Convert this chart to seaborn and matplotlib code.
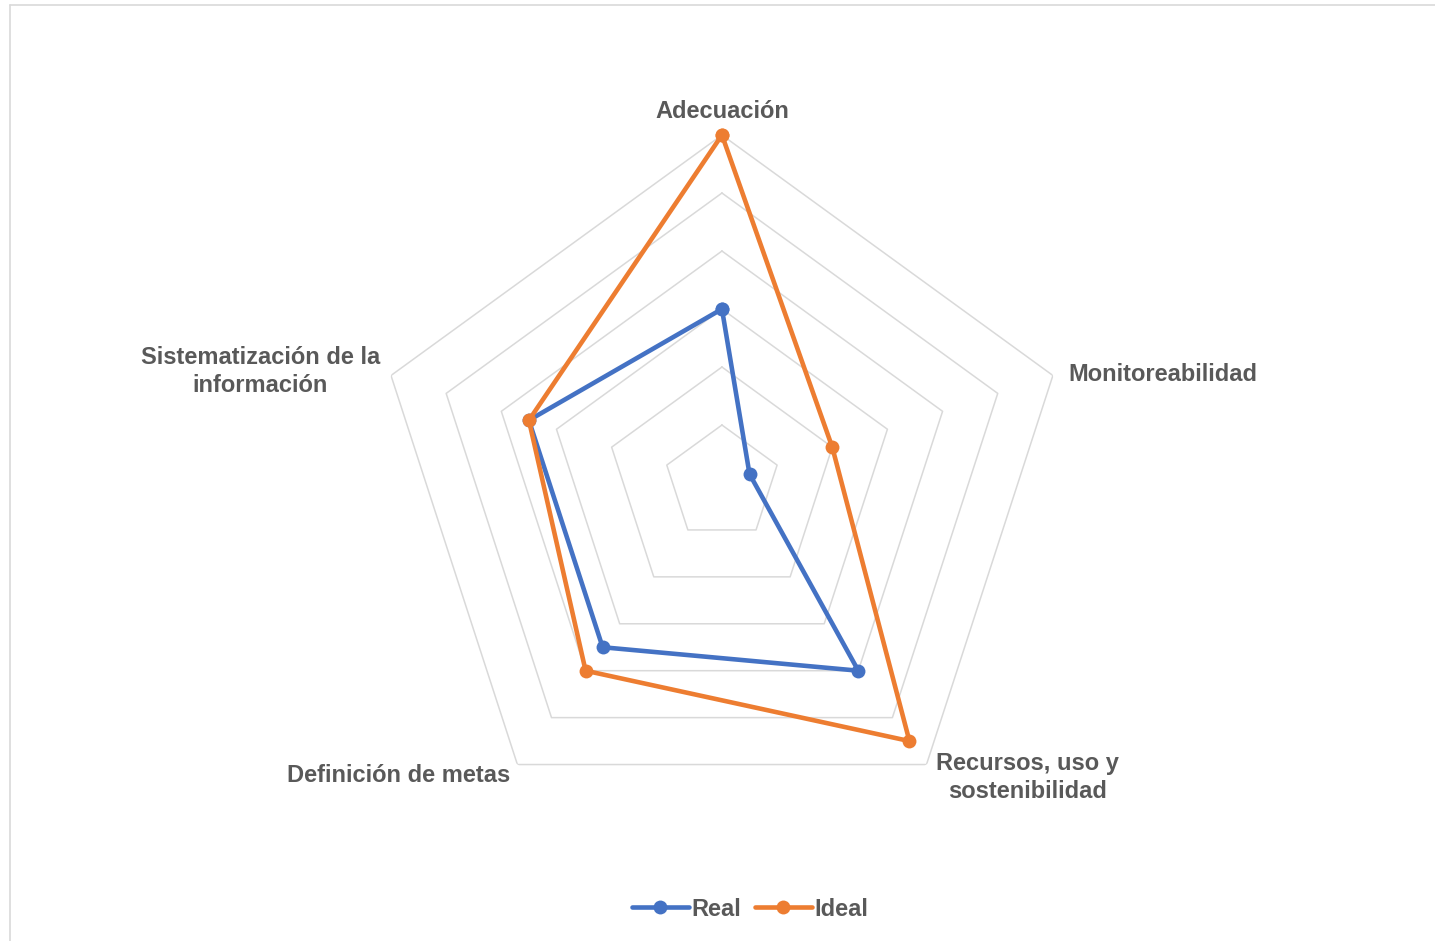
import numpy as np
import pandas as pd
import matplotlib
matplotlib.use("Agg")
import matplotlib.pyplot as plt
from matplotlib.lines import Line2D
import seaborn as sns

categories = ["Adecuación", "Monitoreabilidad", "Recursos, uso y\nsostenibilidad",
              "Definición de metas", "Sistematización de la\ninformación"]
real_values = [3, 0.5, 4, 3.5, 3.5]
ideal_values = [6, 2, 5.5, 4, 3.5]
series_names = ["Real", "Ideal"]
ring_levels = [1, 2, 3, 4, 5, 6]

BLUE = "#4472C4"
ORANGE = "#ED7D31"
GRID = "#D9D9D9"
TEXT = "#595959"

sns.set_style("white")
plt.rcParams["font.family"] = ["Liberation Sans", "DejaVu Sans"]

n = len(categories)
angles = np.linspace(0, 2 * np.pi, n, endpoint=False)

rows = []
for name, vals in zip(series_names, [real_values, ideal_values]):
    for i, (a, v) in enumerate(zip(angles, vals)):
        rows.append({"series": name, "theta": a, "r": v, "order": i})
    rows.append({"series": name, "theta": 2 * np.pi, "r": vals[0], "order": n})
df = pd.DataFrame(rows)

fig = plt.figure(figsize=(14.35, 9.41), dpi=100)
ax = fig.add_axes([0.2606, 0.1169, 0.485, 0.7396], projection="polar")
ax.set_theta_zero_location("N")
ax.set_theta_direction(-1)

# pentagon rings
closed = np.append(angles, angles[0])
for lv in ring_levels:
    ax.plot(closed, [lv] * len(closed), color=GRID, lw=1.1, zorder=1)

n_before = len(ax.lines)
sns.lineplot(data=df, x="theta", y="r", hue="series", sort=False, estimator=None,
             units="series", palette={"Real": BLUE, "Ideal": ORANGE},
             marker="o", markersize=10, markeredgewidth=0, linewidth=3.3,
             ax=ax, legend=False, zorder=3)
for ln in ax.lines[n_before:]:
    ln.set_clip_on(False)

ax.set_ylim(0, 6)
ax.grid(False)
ax.spines["polar"].set_visible(False)
ax.set_xticks([])
ax.set_yticks([])
ax.set_xlabel("")
ax.set_ylabel("")
ax.patch.set_alpha(0)

fs = 17
kw = dict(fontsize=fs, fontweight="bold", color=TEXT, textcoords="offset points",
          linespacing=1.25, multialignment="center")
offsets = [((0, 9), "center", "bottom"),
           ((11, 1), "left", "center"),
           ((7, 9), "left", "top"),
           ((-5, -8), "right", "center"),
           ((-8, 3), "right", "center")]
for a, lab, (off, ha, va) in zip(angles, categories, offsets):
    ax.annotate(lab, xy=(a, 6), xytext=off, ha=ha, va=va, **kw)

handles = [Line2D([0], [0], color=BLUE, lw=3.3, marker="o", markersize=10, markeredgewidth=0),
           Line2D([0], [0], color=ORANGE, lw=3.3, marker="o", markersize=10, markeredgewidth=0)]
leg = fig.legend(handles, series_names, loc="center", bbox_to_anchor=(750 / 1435, 1 - 909 / 941),
                 ncol=2, frameon=False, handlelength=2.4, handletextpad=0.1,
                 columnspacing=0.6, prop={"size": fs, "weight": "bold"})
for t in leg.get_texts():
    t.set_color(TEXT)

# chart area frame
fig.add_artist(Line2D([10 / 1435, 1.0], [1 - 5 / 941, 1 - 5 / 941], color=GRID, lw=1.2,
                      transform=fig.transFigure))
fig.add_artist(Line2D([10 / 1435, 10 / 1435], [0, 1 - 5 / 941], color=GRID, lw=1.2,
                      transform=fig.transFigure))

fig.savefig("out.png", dpi=100)
